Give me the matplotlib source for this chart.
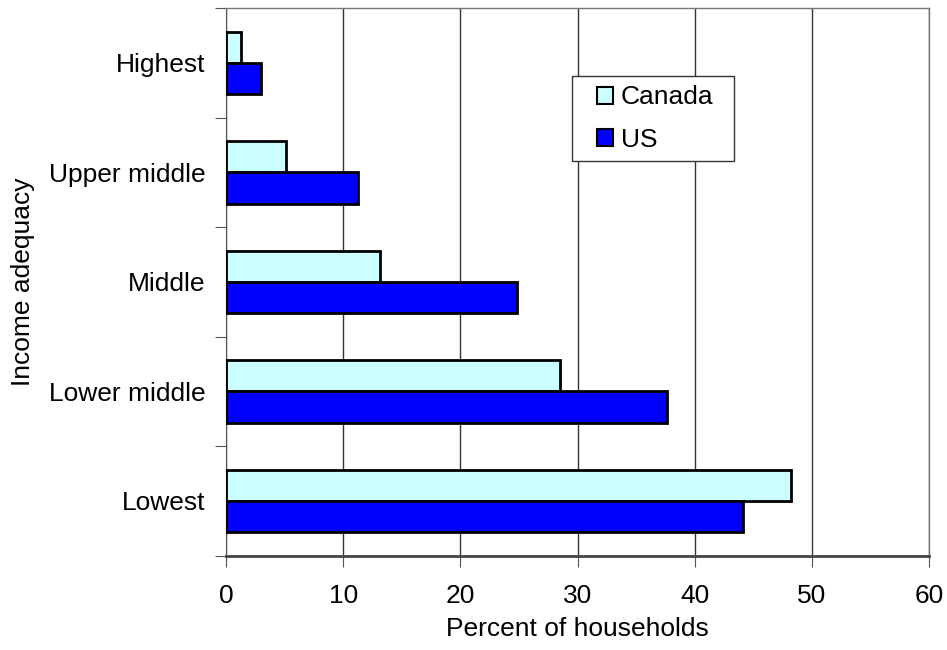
import numpy as np
import matplotlib.pyplot as plt
from matplotlib.patches import Rectangle

plt.rcParams['font.family'] = ['Liberation Sans', 'DejaVu Sans']

categories = ['Lowest', 'Lower middle', 'Middle', 'Upper middle', 'Highest']
canada = [48.2, 28.5, 13.1, 5.1, 1.3]
us = [44.1, 37.6, 24.8, 11.3, 3.0]
xticks = [0, 10, 20, 30, 40, 50, 60]

fig = plt.figure(figsize=(9.47, 6.5), dpi=100)
ax = fig.add_axes([0.2387, 0.145, 0.7424, 0.8425])

y = np.arange(len(categories))
h = 0.285
ax.barh(y + h / 2, canada, height=h, color='#ccffff', edgecolor='black', linewidth=2, label='Canada', zorder=3)
ax.barh(y - h / 2, us, height=h, color='#0000ff', edgecolor='black', linewidth=2, label='US', zorder=3)

ax.set_xlim(0, 60)
ax.set_ylim(-0.5, 4.5)
ax.set_xticks(xticks)
ax.tick_params(axis='x', labelsize=19, length=8, color='#555555', pad=12)

# category labels centred, ticks on the boundaries
ax.set_yticks(np.arange(-0.5, 5, 1))
ax.set_yticklabels([])
ax.set_yticks(y, minor=True)
ax.set_yticklabels(categories, minor=True)
ax.tick_params(axis='y', which='major', length=8, color='#555555')
ax.tick_params(axis='y', which='minor', length=0, labelsize=19, pad=15)

ax.grid(axis='x', color='#333333', linewidth=1, zorder=0)
for s in ['top', 'right']:
    ax.spines[s].set_color('#777777')
    ax.spines[s].set_linewidth(1)
ax.spines['left'].set_color('#555555')
ax.spines['bottom'].set_color('#444444')
ax.spines['bottom'].set_linewidth(2)

ax.set_xlabel('Percent of households', fontsize=19, labelpad=7)
ax.set_ylabel('Income adequacy', fontsize=19, labelpad=10)

# legend box drawn by hand (Excel style padding)
box = Rectangle((572 / 947, 1 - 161 / 650), 162 / 947, 85 / 650, transform=fig.transFigure,
                facecolor='white', edgecolor='#333333', linewidth=1, zorder=4, clip_on=False)
ax.add_patch(box)
leg = ax.legend(loc='upper left', bbox_to_anchor=(597 / 947, 1 - 85.5 / 650), bbox_transform=fig.transFigure,
                fontsize=19, frameon=False, handlelength=0.6, handleheight=0.6,
                handletextpad=0.3, borderpad=0, labelspacing=0.69, borderaxespad=0)
leg.set_zorder(5)
for p in leg.get_patches():
    p.set_linewidth(1.5)

fig.savefig('out.png', dpi=100)
